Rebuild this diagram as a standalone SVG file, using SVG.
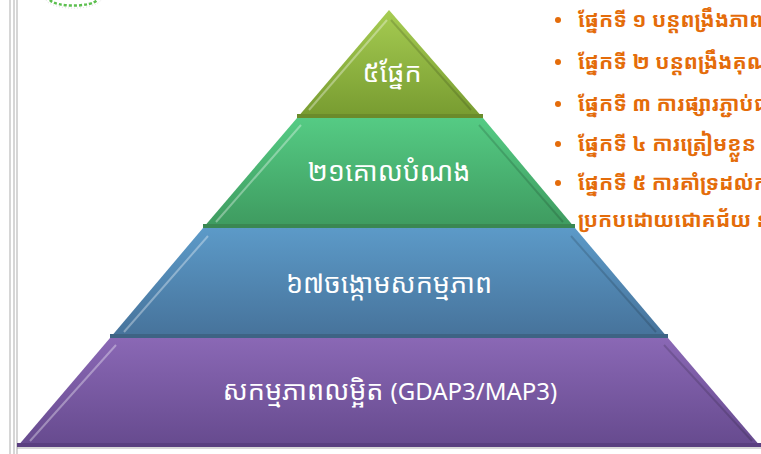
<svg xmlns="http://www.w3.org/2000/svg" width="761" height="454" viewBox="0 0 761 454">
<defs>
<linearGradient id="g1" x1="0" y1="0" x2="0" y2="1"><stop offset="0" stop-color="#a6cc52"/><stop offset="1" stop-color="#779b30"/></linearGradient>
<linearGradient id="g2" x1="0" y1="0" x2="0" y2="1"><stop offset="0" stop-color="#55cb84"/><stop offset="1" stop-color="#3e9a5f"/></linearGradient>
<linearGradient id="g3" x1="0" y1="0" x2="0" y2="1"><stop offset="0" stop-color="#5c9ac8"/><stop offset="1" stop-color="#46729a"/></linearGradient>
<linearGradient id="g4" x1="0" y1="0" x2="0" y2="1"><stop offset="0" stop-color="#8a68b5"/><stop offset="1" stop-color="#664a8e"/></linearGradient>
</defs>
<style>
.lbl{fill:#ffffff;font-family:"Noto Sans Khmer","Noto Sans",sans-serif;font-size:27px;text-anchor:middle}
.lat{font-size:24px}
.bul{fill:#e46c0a;font-family:"Noto Sans Khmer","Noto Sans",sans-serif;font-size:21px;font-weight:bold}
.dot{fill:#e46c0a}
.hl{stroke:#ffffff;stroke-opacity:0.35;stroke-width:2;fill:none}
.sh{stroke:#000000;stroke-opacity:0.15;stroke-width:2;fill:none}
.vl{stroke:#c8c8c8;stroke-width:1.5}
</style>
<rect width="761" height="454" fill="#ffffff"/>
<g id="margin">
<line class="vl" x1="10" y1="0" x2="10" y2="454"/>
<line class="vl" x1="14" y1="0" x2="14" y2="454"/>
<line class="vl" x1="17" y1="0" x2="17" y2="454"/>
</g>
<g id="logo">
<path d="M46,0 A28,10 0 0 0 101,0" fill="none" stroke="#dcdcdc" stroke-width="1" stroke-dasharray="1 2"/>
<path d="M50,0 A24,7 0 0 0 97,0" fill="none" stroke="#5cbf4f" stroke-width="2.5" stroke-dasharray="3 2"/>
</g>
<g id="layer4">
<polygon points="110,338 668,338 761,447 17,447" fill="url(#g4)"/>
<rect x="17" y="443" width="744" height="4" fill="#5a3f80"/>
<line x1="17" y1="448" x2="761" y2="448" stroke="#999" stroke-width="1.5" stroke-opacity="0.5"/>
<line class="hl" x1="116" y1="345" x2="30" y2="441"/>
<line class="sh" x1="664" y1="345" x2="752" y2="441"/>
<text class="lbl" x="390" y="400">សកម្មភាពលម្អិត <tspan class="lat">(GDAP3/MAP3)</tspan></text>
</g>
<g id="layer3">
<polygon points="203,228 575,228 668,338 110,338" fill="url(#g3)"/>
<rect x="110" y="334" width="558" height="4" fill="#3e6384"/>
<line class="hl" x1="208" y1="236" x2="124" y2="332"/>
<line class="sh" x1="571" y1="236" x2="656" y2="332"/>
<text class="lbl" x="389" y="293">៦៧ចង្កោមសកម្មភាព</text>
</g>
<g id="layer2">
<polygon points="297,118 483,118 575,228 203,228" fill="url(#g2)"/>
<rect x="203" y="224" width="372" height="4" fill="#3a8752"/>
<line class="hl" x1="301" y1="125" x2="216" y2="222"/>
<line class="sh" x1="479" y1="125" x2="563" y2="222"/>
<text class="lbl" x="389" y="181">២១គោលបំណង</text>
</g>
<g id="layer1">
<polygon points="389,10 483,118 297,118" fill="url(#g1)"/>
<rect x="297" y="114" width="186" height="4" fill="#6b8b2b"/>
<line class="hl" x1="387" y1="20" x2="309" y2="110"/>
<line class="sh" x1="391" y1="20" x2="471" y2="110"/>
<text class="lbl" x="392" y="82">៥ផ្នែក</text>
</g>
<g id="bullets">
<circle class="dot" cx="558" cy="20" r="3"/>
<text class="bul" x="578" y="27">ផ្នែកទី ១ បន្តពង្រឹងភាព</text>
<circle class="dot" cx="558" cy="62" r="3"/>
<text class="bul" x="578" y="69">ផ្នែកទី ២ បន្តពង្រឹងគុណ</text>
<circle class="dot" cx="558" cy="104" r="3"/>
<text class="bul" x="578" y="111">ផ្នែកទី ៣ ការផ្សារភ្ជាប់ជ</text>
<circle class="dot" cx="558" cy="144" r="3"/>
<text class="bul" x="578" y="151">ផ្នែកទី ៤ ការត្រៀមខ្លួន</text>
<circle class="dot" cx="558" cy="183" r="3"/>
<text class="bul" x="578" y="190">ផ្នែកទី ៥ ការគាំទ្រដល់ក</text>
<text class="bul" x="578" y="227">ប្រកបដោយជោគជ័យ ន</text>
</g>
</svg>
